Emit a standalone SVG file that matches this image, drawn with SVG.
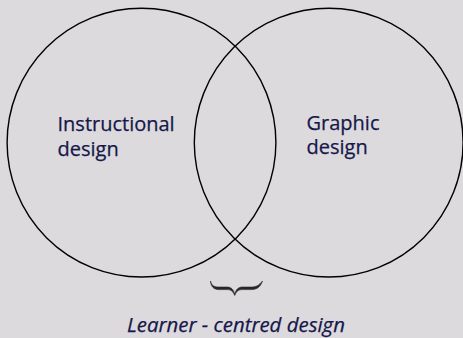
<svg xmlns="http://www.w3.org/2000/svg" width="463" height="338" viewBox="0 0 463 338">
  <style>
    .ring { fill: none; stroke: #000; stroke-width: 1.4; }
    .label { font-family: "Open Sans", "Noto Sans", sans-serif; font-size: 20px; fill: #15174a; stroke: #15174a; stroke-width: 0.25; }
    .caption { font-style: italic; text-anchor: middle; font-size: 20.4px; }
    .brace { fill: #262626; stroke: #262626; stroke-width: 0.6; stroke-linejoin: round; }
  </style>
  <rect width="463" height="338" fill="#dddadd"/>

  <g id="instructional-design">
    <circle class="ring" cx="141.5" cy="142.6" r="134.4"/>
    <text class="label" x="57.5" y="131">Instructional</text>
    <text class="label" x="57.5" y="155.5">design</text>
  </g>

  <g id="graphic-design">
    <circle class="ring" cx="328.7" cy="142.6" r="134.4"/>
    <text class="label" x="306.5" y="129.5">Graphic</text>
    <text class="label" x="306.5" y="154">design</text>
  </g>

  <g id="overlap">
    <!-- horizontal curly brace, drawn as a filled calligraphic outline -->
    <path class="brace" d="M210.5,281 C211.5,285.5 214,287 219,287 L227,287 C231,287 233.5,289 234.7,294.5 C236,289 238.5,287 242.5,287 L251,287 C256,287 259,285.5 262.5,281 C260.5,287 257,289.6 251,289.6 L242.5,289.6 C238.5,289.6 236.2,291.5 234.7,295.5 C233.2,291.5 231,289.6 227,289.6 L219,289.6 C214,289.6 211,287 210.5,281 Z"/>
    <text class="label caption" x="236" y="332">Learner - centred design</text>
  </g>
</svg>
